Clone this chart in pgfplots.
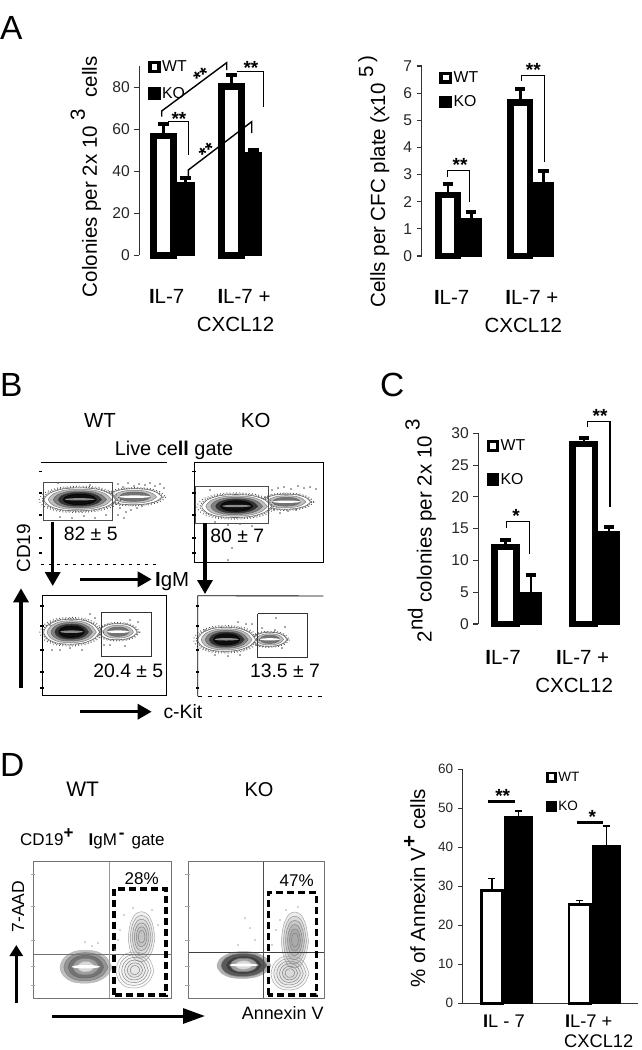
\documentclass[border=0pt]{standalone}
\usepackage{fontspec}
\setmainfont{Liberation Sans}
\usepackage{pgfplots}
\pgfplotsset{compat=1.18}
\usepackage{pgfplotstable}
\usetikzlibrary{arrows.meta}

% closed contour used for the flow plots, unit size
\pgfplotstableread{
x y
1.00 0.05
0.80 0.55
0.45 0.88
0.00 1.00
-0.50 0.92
-0.85 0.58
-1.00 0.05
-0.85 -0.52
-0.48 -0.90
0.00 -1.00
0.48 -0.88
0.82 -0.50
1.00 0.05
}\shape

% cx cy rx ry shear scale options
\newcommand\lvl[7]{\addplot[smooth,#7] table[x expr={#1+#6*#3*\thisrow{x}},y expr={#2+#6*#4*\thisrow{y}+#5*#6*\thisrow{x}}] {\shape};}
\newcommand\speck[5]{%
 \lvl{#1}{#2}{#3}{#4}{#5}{1.14}{draw=black!70,line width=1pt,dash pattern=on 0.8pt off 2.4pt}
 \lvl{#1}{#2}{#3}{#4}{#5}{1.05}{draw=black!60,line width=0.9pt,dash pattern=on 1.2pt off 1.4pt}}
\newcommand\darkblob[5]{\speck{#1}{#2}{#3}{#4}{#5}
 \lvl{#1}{#2}{#3}{#4}{#5}{1.00}{draw=black!60,fill=white,line width=.6pt}
 \lvl{#1}{#2}{#3}{#4}{#5}{0.88}{draw=black!50,fill=black!25,line width=.5pt}
 \lvl{#1}{#2}{#3}{#4}{#5}{0.74}{draw=black!60,fill=black!50,line width=.5pt}
 \lvl{#1}{#2}{#3}{#4}{#5}{0.60}{draw=black!80,fill=black!80,line width=.5pt}
 \lvl{#1}{#2}{#3}{#4}{#5}{0.46}{draw=black,fill=black!95,line width=.5pt}
 \addplot[smooth,draw=none,fill=black!45] table[x expr={#1+0.42*#3*\thisrow{x}},y expr={#2+0.1*#4*\thisrow{y}}] {\shape};}
\newcommand\lightblob[5]{\speck{#1}{#2}{#3}{#4}{#5}
 \lvl{#1}{#2}{#3}{#4}{#5}{1.00}{draw=black!60,fill=white,line width=.6pt}
 \lvl{#1}{#2}{#3}{#4}{#5}{0.80}{draw=black!50,fill=black!25,line width=.5pt}
 \lvl{#1}{#2}{#3}{#4}{#5}{0.58}{draw=black!60,fill=black!55,line width=.5pt}
 \addplot[smooth,draw=none,fill=white] table[x expr={#1+0.6*#3*\thisrow{x}},y expr={#2+0.16*#4*\thisrow{y}}] {\shape};}
% soft gray contours for the annexin plots
\newcommand\softblob[6]{%
 \lvl{#1}{#2}{#3}{#4}{#5}{1.00}{draw=black!35,fill=black,fill opacity=#6,line width=.5pt}
 \lvl{#1}{#2}{#3}{#4}{#5}{0.85}{draw=black!40,fill=black,fill opacity=#6,line width=.5pt}
 \lvl{#1}{#2}{#3}{#4}{#5}{0.70}{draw=black!45,fill=black,fill opacity=#6,line width=.5pt}
 \lvl{#1}{#2}{#3}{#4}{#5}{0.55}{draw=black!50,fill=black,fill opacity=#6,line width=.5pt}
 \lvl{#1}{#2}{#3}{#4}{#5}{0.40}{draw=black!50,fill=black,fill opacity=#6,line width=.5pt}
 \lvl{#1}{#2}{#3}{#4}{#5}{0.25}{draw=black!50,line width=.5pt}}
% cx cy rx ry outer mid dark
\newcommand\denseblob[7]{%
 \lvl{#1}{#2}{#3}{#4}{0}{1.00}{draw=black!30,fill=black!#5,line width=.5pt}
 \lvl{#1}{#2}{#3}{#4}{0}{0.85}{draw=black!50,fill=black!#6,line width=.5pt}
 \lvl{#1}{#2}{#3}{#4}{0}{0.68}{draw=black!60,fill=black!#7,line width=.5pt}
 \lvl{#1}{#2}{#3}{#4}{0}{0.50}{draw=black!50,fill=black!38,line width=.5pt}
 \lvl{#1}{#2}{#3}{#4}{0}{0.32}{draw=black!30,fill=black!15,line width=.5pt}
 \addplot[smooth,draw=none,fill=white] table[x expr={#1+0.55*#3*\thisrow{x}},y expr={#2+0.1*#4*\thisrow{y}}] {\shape};}

\pgfplotsset{
 flow/.style={scale only axis,clip=false,hide axis,x=1pt,y=1pt,y dir=reverse},
 dots/.style={only marks,mark=*,mark size=0.5pt,black!60},
 bars/.style={scale only axis,clip=false,axis x line*=bottom,axis y line*=left,
  ymin=0,tick align=outside,major tick length=5pt,
  y axis line style={draw=black!80,line width=1.1pt},
  ytick style={draw=black!80,line width=1.1pt},
  x axis line style={draw=none},major x tick style={draw=none},
  /pgf/number format/assume math mode=true,
  yticklabel style={font=\fontsize{15.6}{16}\selectfont,text=black!85,xshift=-1pt},
  xticklabel style={font=\fontsize{20.5}{28}\selectfont,align=center,anchor=north},
  xticklabels={\textbf{I}L-7,{\textbf{I}L-7 +\\CXCL12\hspace*{17pt}}},
  ylabel style={font=\fontsize{20.5}{24}\selectfont,anchor=base},
  legend cell align=left,
  legend image code/.code={\draw[##1,line width=3.6pt,solid] (1.8pt,-4.4pt) rectangle (11pt,4.4pt);},
  legend style={draw=none,fill=none,inner sep=0pt,anchor=north west,row sep=9pt,
   font=\fontsize{15.8}{18}\selectfont,nodes={inner sep=1.4pt}},
 },
 wt/.style={ybar,bar shift=0pt,draw=black,fill=white,line width=6.6pt,bar width=#1},
 ko/.style={ybar,bar shift=0pt,draw=black,fill=black,line width=1pt,bar width=#1},
 eb/.style={error bars/.cd,y dir=plus,y explicit,
  error bar style={line width=2.6pt,black},
  error mark=-,error mark options={black,line width=4pt,mark size=5.2pt,rotate=90}},
}

\begin{document}
\begin{tikzpicture}[x=1pt,y=-1pt]
\path[use as bounding box] (0,0) rectangle (642,1050);

% ---------- panel A, left
\begin{axis}[bars,at={(139.3pt,-255.3pt)},anchor=south west,x=67.3pt,y=2.1pt,
 xmin=-0.556,xmax=1.395,ymax=90,ytick={0,20,40,60,80},
 xtick={-0.149,1},
 xticklabel style={yshift=-26pt},
 ylabel={Colonies per 2x 10\raisebox{12pt}{ 3} \ cells},
 ylabel style={at={([shift={(-42.3pt,-16pt)}]axis description cs:0,0.5)}},
 legend style={row sep=11pt,at={([shift={(8.5pt,7pt)}]axis description cs:0,1)}}]
\addplot[wt=20pt,eb] coordinates {(-0.198,56.8) +- (0,5.8) (0.8165,80.4) +- (0,5.6)};
\addplot[ko=17pt,eb] coordinates {(0.131,34.5) +- (0,2.5) (1.138,49) +- (0,1.2)};
\legend{WT,KO}
\end{axis}

% ---------- panel A, right
\begin{axis}[bars,at={(421.7pt,-256pt)},anchor=south west,x=72.6pt,y=27.14pt,
 xmin=-0.537,xmax=1.368,ymax=7,ytick={0,...,7},
 xtick={-0.124,0.98},
 xticklabel style={yshift=-26pt},
 ylabel={Cells per CFC plate (x10\raisebox{12pt}{ 5}\,\raisebox{12pt}{)}},
 ylabel style={at={([shift={(-36.7pt,-20.7pt)}]axis description cs:0,0.5)}},
 legend style={at={([shift={(17.5pt,-4pt)}]axis description cs:0,1)}}]
\addplot[wt=19.2pt,eb] coordinates {(-0.177,2.25) +- (0,0.42) (0.821,5.65) +- (0,0.52)};
\addplot[ko=20pt,eb] coordinates {(0.145,1.4) +- (0,0.22) (1.138,2.7) +- (0,0.42)};
\legend{WT,KO}
\end{axis}

% ---------- panel C
\begin{axis}[bars,at={(478.3pt,-624pt)},anchor=south west,x=78.3pt,y=6.357pt,
 xmin=-0.533,xmax=1.34,ymax=30,ytick={0,5,...,30},
 xtick={-0.217,0.8},
 xticklabel style={yshift=-18pt},
 ylabel={2\raisebox{9pt}{nd} colonies per 2x 10\raisebox{12pt}{ 3}},
 ylabel style={at={([shift={(-46.6pt,-2pt)}]axis description cs:0,0.5)}},
 legend style={row sep=18pt,at={([shift={(8pt,-5pt)}]axis description cs:0,1)}}]
\addplot[wt=22.3pt,eb] coordinates {(-0.185,12.1) +- (0,1.1) (0.815,28.3) +- (0,1.0)};
\addplot[ko=20.7pt,eb] coordinates {(0.138,5) +- (0,2.7) (1.138,14.5) +- (0,0.8)};
\legend{WT,KO}
\end{axis}

% ---------- panel D, bars
\begin{axis}[bars,at={(462.7pt,-1003.3pt)},anchor=south west,x=87.7pt,y=3.9pt,
 xmin=-0.471,xmax=1.531,ymax=60,ytick={0,10,...,60},
 x axis line style={draw=black!80,line width=1.1pt},
 xtick={0,0.966},
 extra x ticks={-0.471,0.529,1.531},
 extra x tick labels={},
 extra x tick style={major tick length=3pt,tick style={draw=black!80,line width=1pt}},
 xticklabels={\textbf{I}L - 7,{\textbf{I}L-7 +\\\hspace*{20pt}CXCL12}},
 xticklabel style={font=\fontsize{18.3}{20}\selectfont,yshift=-3pt},
 yticklabel style={font=\fontsize{13.5}{14}\selectfont},
 ylabel={\% of Annexin V\raisebox{9pt}{\textbf{+}} cells},
 ylabel style={at={([shift={(-37.7pt,-2pt)}]axis description cs:0,0.5)}},
 legend image code/.code={\draw[#1,line width=2.6pt,solid] (1.3pt,-4.2pt) rectangle (9.8pt,4.2pt);},
 legend style={font=\fontsize{13.5}{15}\selectfont,row sep=16pt,
  at={([shift={(83pt,-1pt)}]axis description cs:0,1)}},
 eb/.style={error bars/.cd,y dir=plus,y explicit,
  error bar style={line width=1.2pt,black},
  error mark=-,error mark options={black,line width=1.4pt,mark size=3.5pt,rotate=90}}]
\addplot[ybar,bar shift=0pt,draw=black,fill=white,line width=2.7pt,bar width=21.5pt,eb]
 coordinates {(-0.137,29) +- (0,3) (0.863,25.4) +- (0,0.9)};
\addplot[ko=28.3pt,eb] coordinates {(0.168,48) +- (0,1.3) (1.168,40.5) +- (0,5)};
\legend{WT,KO}
\end{axis}

% ---------- panel B, flow plots
\begin{axis}[flow,at={(40.7pt,-564pt)},anchor=south west,xmin=40.7,xmax=166.7,ymin=462.7,ymax=564]
\addplot[dots] coordinates {(118,484) (123,487) (128,483) (134,486) (139,484) (145,485) (150,483) (155,486) (160,484) (164,488) (120,508) (126,512) (131,510) (137,508) (142,506) (118,515) (124,518) (60,517) (72,518) (84,516) (95,518) (106,515) (58,483) (90,485)};
\lightblob{135}{496.7}{27}{8}{-0.06}
\darkblob{80}{499.3}{36}{11.5}{-0.02}
\addplot[draw=black!70,line width=1pt] coordinates {(43.3,482.3) (112.7,482.3) (112.7,520) (43.3,520) (43.3,482.3)};
\end{axis}
\begin{axis}[flow,at={(194.3pt,-562.7pt)},anchor=south west,xmin=194.3,xmax=323.3,ymin=462.7,ymax=562.7]
\addplot[dots] coordinates {(272,490) (278,488) (284,487) (291,489) (298,486) (304,488) (310,487) (316,489) (274,510) (280,513) (288,511) (296,510) (215,522) (228,525) (240,524) (252,526) (232,548) (228,560) (210,490)};
\lightblob{286.7}{501.7}{24}{7.5}{-0.06}
\darkblob{236.7}{506}{35}{11.5}{-0.02}
\addplot[draw=black!70,line width=1pt] coordinates {(195.7,486) (268.3,486) (268.3,523.3) (195.7,523.3) (195.7,486)};
\end{axis}
\begin{axis}[flow,at={(42pt,-695pt)},anchor=south west,xmin=42,xmax=166.7,ymin=595.7,ymax=695]
\addplot[dots] coordinates {(52,650) (60,650) (70,648) (82,650) (90,614) (95,618) (104,645) (110,645) (125,646) (130,620) (138,622) (50,625)};
\lightblob{118.3}{631.7}{19}{8}{0}
\darkblob{71.7}{631.7}{28}{12.5}{-0.04}
\addplot[draw=black!80,line width=.9pt] coordinates {(101,612.3) (151.7,612.3) (151.7,656) (101,656) (101,612.3)};
\end{axis}
\begin{axis}[flow,at={(197.7pt,-696pt)},anchor=south west,xmin=197.7,xmax=323.3,ymin=595.7,ymax=696]
\addplot[dots] coordinates {(205,630) (215,655) (228,656) (240,655) (238,622) (246,624) (252,624) (262,628) (275,630) (285,627) (276,618) (282,648)};
\lightblob{270}{639.3}{17}{7}{0}
\darkblob{226.7}{639.3}{29}{12}{-0.02}
\addplot[draw=black!80,line width=.9pt] coordinates {(257.7,613.7) (307.7,613.7) (307.7,657.3) (257.7,657.3) (257.7,613.7)};
\end{axis}

% ---------- panel D, flow plots
\begin{axis}[flow,at={(33.3pt,-998.3pt)},anchor=south west,xmin=33.3,xmax=171.7,ymin=861.7,ymax=998.3]
\addplot[dots,black!30] coordinates {(85,942) (92,946) (98,943) (120,930) (118,940) (124,915) (133,908) (152,910) (158,925) (115,950)};
\softblob{141.7}{936.7}{13.3}{25}{0}{0.05}
\softblob{135}{970}{19}{18}{0}{0.02}
\denseblob{86}{966.7}{26}{16.5}{25}{42}{55}
\addplot[draw=black!55,line width=.7pt] coordinates {(33.3,954.3) (171.7,954.3)};
\addplot[draw=black!40,line width=.8pt] coordinates {(109,861.7) (109,998.3)};
\addplot[draw=black,line width=3.4pt,dash pattern=on 7pt off 4pt] coordinates {(114,995) (114,889) (166,889) (166,995) (114,995)};
\end{axis}
\begin{axis}[flow,at={(188.3pt,-998.3pt)},anchor=south west,xmin=188.3,xmax=324.3,ymin=861.7,ymax=998.3]
\addplot[dots,black!30] coordinates {(245,918) (250,928) (255,940) (272,945) (276,930) (280,920) (286,910) (298,907) (238,945)};
\softblob{295}{940}{13.5}{28}{0}{0.08}
\softblob{290}{973}{19}{17}{0}{0.03}
\denseblob{244}{965}{27}{13.5}{30}{65}{75}
\addplot[draw=black!75,line width=1.3pt] coordinates {(188.3,952.7) (324.3,952.7)};
\addplot[draw=black!70,line width=1.4pt] coordinates {(263.3,861.7) (263.3,998.3)};
\addplot[draw=black,line width=3.4pt,dash pattern=on 7pt off 4pt] coordinates {(268.3,995) (268.3,892.7) (316.7,892.7) (316.7,995) (268.3,995)};
\end{axis}

% ---------- frames and small ticks of the flow plots
\draw[black,line width=1pt] (40.7,462.7) -- (166.7,462.7);
\draw[black,line width=1pt,dash pattern=on 3pt off 5pt] (40.7,564) -- (160,564);
\draw[black,line width=.9pt] (194.3,462.7) rectangle (323.3,562.7);
\draw[black,line width=.9pt] (42,595.7) rectangle (166.7,695);
\draw[black,line width=.9pt] (323.3,596) -- (197.7,595.7) -- (197.7,696);
\draw[black,line width=1pt,dash pattern=on 4pt off 6pt] (197.7,696) -- (323.3,696);
\draw[black!55,line width=1.1pt] (33.3,861.7) rectangle (171.7,998.3);
\draw[black!55,line width=1.1pt] (188.3,861.7) rectangle (324.3,998.3);
\foreach \y in {471.7,493,515,538,553} \draw[black,line width=1.2pt] (39,\y) -- (42,\y);
\foreach \y in {471.7,493,515,538,553} \draw[black,line width=1.2pt] (192,\y) -- (196,\y);
\foreach \y in {606,626,650,672,688} {\draw[black,line width=1.2pt] (40,\y) -- (44,\y); \draw[black,line width=1.2pt] (196,\y) -- (199,\y);}
\foreach \y in {874,906,940,966,985} {\draw[black!35,line width=.8pt] (31,\y) -- (35,\y); \draw[black!35,line width=.8pt] (185,\y) -- (190,\y);}

% ---------- arrows
\tikzset{fat/.style={line width=#1,-{Triangle[length=14pt,width=15pt]}}}
\draw[fat=3.2pt] (52.7,521.7) -- (52.7,586);
\draw[fat=3.2pt] (205,522.7) -- (205,594);
\draw[fat=3.2pt] (80,579.3) -- (151.7,579.3);
\draw[fat=3.2pt] (21,688) -- (21,588.3);
\draw[fat=3.2pt] (80,711.7) -- (151.7,711.7);
\draw[line width=3pt,-{Triangle[length=11pt,width=13pt]}] (16.3,1003) -- (16.3,945);
\draw[line width=3pt,-{Triangle[length=22pt,width=15pt]}] (52,1016) -- (205,1016);

% ---------- brackets
\tikzset{br/.style={line width=1.4pt,black}}
\draw[br] (161.7,116.7) -- (161.7,111) -- (226.7,62.7) -- (226.7,70);
\draw[br] (168,121.7) -- (188.3,121.7) -- (188.3,155);
\draw[br] (188.3,176.7) -- (188.3,170) -- (251.7,121.7) -- (251.7,133);
\draw[br] (236.7,71.7) -- (263.3,71.7) -- (263.3,106.7);
\draw[br] (447.3,176.7) -- (447.3,170.7) -- (469.3,170.7) -- (469.3,201.7);
\draw[br] (521.7,81) -- (521.7,75.7) -- (544.3,75.7) -- (544.3,161.7);
\draw[br] (506.7,528.3) -- (506.7,521.7) -- (529.3,521.7) -- (529.3,554);
\draw[br] (587.3,427.3) -- (587.3,421.7) -- (610,421.7) -- (610,507.3);
\draw[black,line width=3pt] (487.7,801.3) -- (515,801.3);
\draw[black,line width=3pt] (576.7,822) -- (603.3,822);

% ---------- stars
\tikzset{st/.style={font=\bfseries\fontsize{19}{20}\selectfont,inner sep=0pt}}
\node[st,rotate=32] at (201.7,76) {**};
\node[st] at (179,118.5) {**};
\node[st,rotate=35] at (207.3,151.5) {**};
\node[st] at (251,67.5) {**};
\node[st] at (460,165) {**};
\node[st] at (533.3,70) {**};
\node[st] at (516,516) {*};
\node[st] at (600,415.5) {**};
\node[st] at (502.7,795.5) {**};
\node[st] at (592.3,816.5) {*};

% ---------- texts, anchored on the baseline
\tikzset{tx/.style={font=\fontsize{#1}{#1}\selectfont,inner sep=0pt,anchor=base},
 txw/.style={font=\fontsize{#1}{#1}\selectfont,inner sep=0pt,anchor=base west}}
\node[txw=33.5] at (0,39) {A};
\node[txw=33.5] at (0,396.7) {B};
\node[txw=33.5] at (380,396.7) {C};
\node[txw=33.5] at (0,776.7) {D};
\node[tx=20.4] at (100,427.3) {WT};
\node[tx=20.4] at (255.7,427.3) {KO};
\node[tx=19.9] at (174,455) {Live ce\textbf{ll} gate};
\node[tx=19.4] at (90.7,540.7) {82 ± 5};
\node[tx=19.4] at (237.3,542.7) {80 ± 7};
\node[txw=20.4] at (155,586.7) {\textbf{I}gM};
\node[tx=19.4] at (128.3,677.3) {20.4 ± 5};
\node[tx=19.4] at (285,677.3) {13.5 ± 7};
\node[txw=19.4] at (163.3,718) {c-Kit};
\node[tx=19,rotate=90] at (30,548.3) {CD19};
\node[tx=21] at (82.7,796.7) {WT};
\node[tx=20] at (259,796.7) {KO};
\node[txw=17] at (20,845) {CD19\raisebox{7pt}{\textbf{+}}\hspace{15pt}\textbf{I}gM\hspace{2pt}\raisebox{7pt}{\textbf{-}}\hspace{7pt}gate};
\node[tx=17.5,rotate=90] at (24,906.7) {7-AAD};
\node[txw=17.9] at (241.7,1019) {Annexin V};
\node[tx=17] at (141.7,884) {28\%};
\node[tx=17] at (296.7,886.7) {47\%};
\end{tikzpicture}
\end{document}
